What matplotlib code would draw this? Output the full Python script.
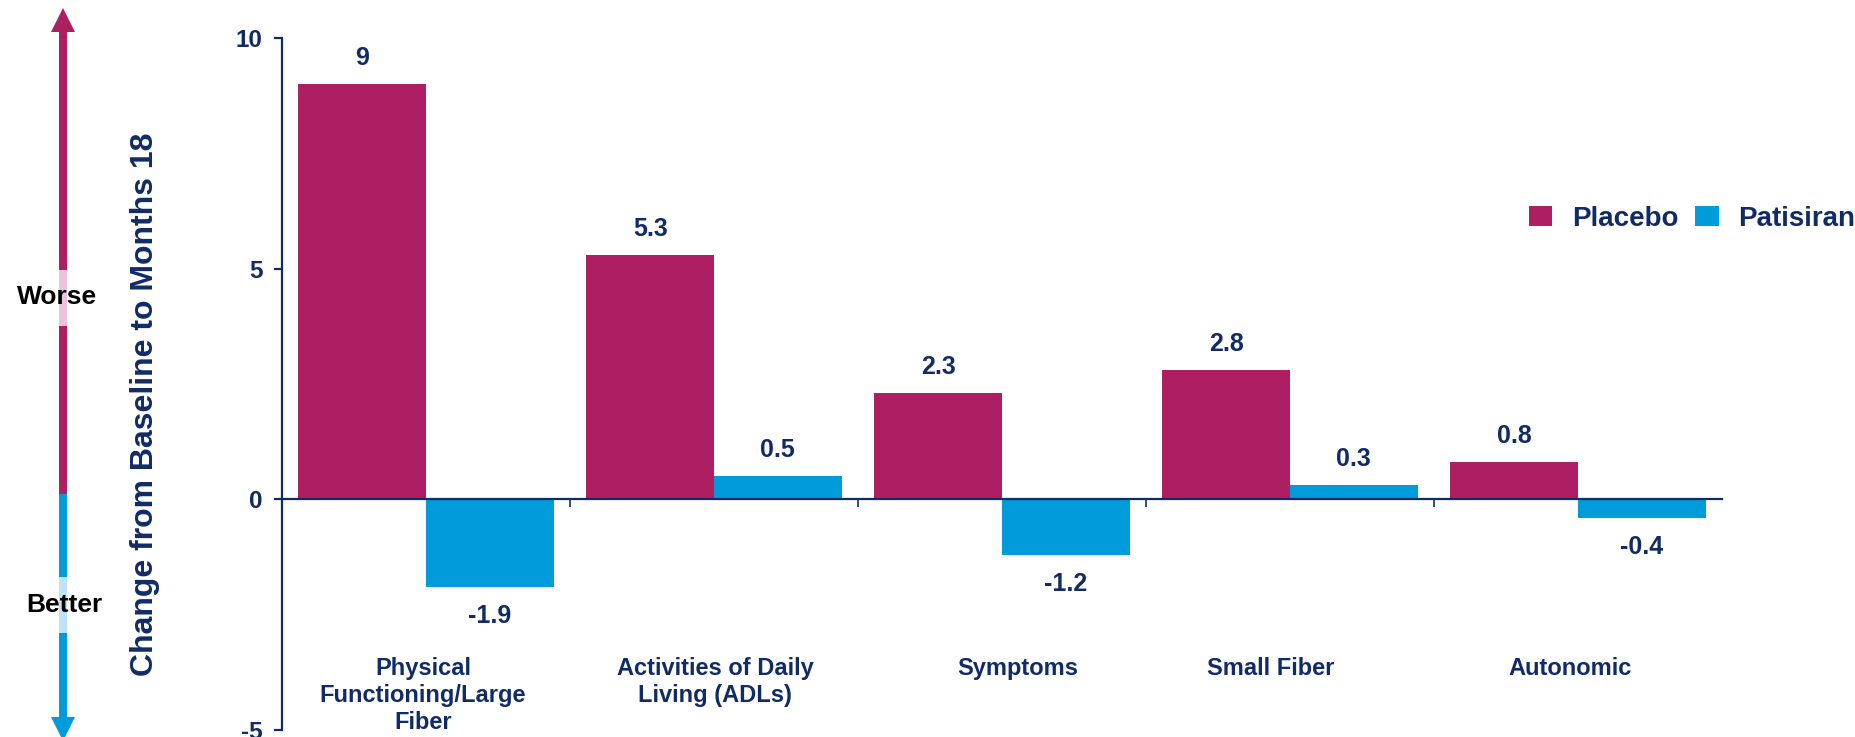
import matplotlib
matplotlib.use("Agg")
import matplotlib.pyplot as plt
from matplotlib.patches import Rectangle, Polygon
import numpy as np

plt.rcParams["font.family"] = ["Liberation Sans", "DejaVu Sans"]
plt.rcParams["font.weight"] = "bold"
plt.rcParams["axes.unicode_minus"] = False

# data
categories = ["Physical\nFunctioning/Large\nFiber", "Activities of Daily\nLiving (ADLs)",
              "Symptoms", "Small Fiber", "Autonomic"]
placebo = [9, 5.3, 2.3, 2.8, 0.8]
patisiran = [-1.9, 0.5, -1.2, 0.3, -0.4]
series_names = ["Placebo", "Patisiran"]
y_ticks = [-5, 0, 5, 10]

# styling
navy = "#112B66"
magenta = "#AE1F62"
blue = "#009BDB"
W, H = 1856, 737
DPI = 100
px = 72 / DPI  # pixels -> points

fig = plt.figure(figsize=(W / DPI, H / DPI), dpi=DPI)

# main axes, placed in pixels
ax_left, ax_right, ax_top, ax_bottom = 282, 1722, 38, 730
ax = fig.add_axes([ax_left / W, 1 - ax_bottom / H, (ax_right - ax_left) / W, (ax_bottom - ax_top) / H])

x = np.arange(len(categories))
bw = 0.443
b1 = ax.bar(x - bw / 2, placebo, bw, color=magenta, label=series_names[0])
b2 = ax.bar(x + bw / 2, patisiran, bw, color=blue, label=series_names[1])

ax.set_xlim(-0.5, len(categories) - 0.5)
ax.set_ylim(-5, 10)
ax.set_yticks(y_ticks)

for s in ["top", "right"]:
    ax.spines[s].set_visible(False)
ax.spines["bottom"].set_position(("data", 0))
for s in ["left", "bottom"]:
    ax.spines[s].set_color(navy)
    ax.spines[s].set_linewidth(1.6)

ax.tick_params(axis="y", direction="out", length=6, width=1.6, color=navy,
               labelcolor=navy, labelsize=17.5, pad=8)
ax.set_xticks([])
ax.set_xticks(x[:-1] + 0.5, minor=True)
ax.tick_params(axis="x", which="minor", direction="out", length=6, width=1.2, color=navy)

# category labels below the zero line
label_nudge = [-3, 1, 16, -19, -8]
for xi, name, dx in zip(x, categories, label_nudge):
    ax.annotate(name, (xi, 0), xytext=(dx * px, -158 * px), textcoords="offset points",
                ha="center", va="top", fontsize=17, color=navy, fontweight="bold",
                linespacing=1.2)

# value labels
for bars, vals in zip([b1, b2], [placebo, patisiran]):
    for bar, v in zip(bars, vals):
        cx = bar.get_x() + bar.get_width() / 2
        off = 26 if v >= 0 else -29
        ax.annotate(f"{v:g}", (cx, v), xytext=(0, off * px), textcoords="offset points",
                    ha="center", va="center", fontsize=18, color=navy, fontweight="bold")

leg = fig.legend(loc="center left", bbox_to_anchor=(1529 / W, 1 - 219 / H), ncol=2,
                 frameon=False, fontsize=20, handlelength=0.83, handleheight=0.72,
                 handletextpad=0.72, columnspacing=0.61, borderpad=0, borderaxespad=0)
for t in leg.get_texts():
    t.set_color(navy)
    t.set_fontweight("bold")

fig.text(145 / W, 1 - 404 / H, "Change from Baseline to Months 18", rotation=90,
         ha="center", va="center", fontsize=23, color=navy, fontweight="bold")

# worse / better arrow on the left
ov = fig.add_axes([0, 0, 1, 1], zorder=-1)
ov.set_xlim(0, W)
ov.set_ylim(H, 0)
ov.axis("off")
cx, sw, hw = 63, 8, 24
ov.add_patch(Rectangle((cx - sw / 2, 32), sw, 494 - 32, color=magenta, lw=0))
ov.add_patch(Rectangle((cx - sw / 2, 494), sw, 717 - 494, color=blue, lw=0))
ov.add_patch(Polygon([(cx - hw / 2, 32), (cx + hw / 2, 32), (cx, 8)], color=magenta, lw=0))
ov.add_patch(Polygon([(cx - hw / 2, 717), (cx + hw / 2, 717), (cx, 741)], color=blue, lw=0))
ov.add_patch(Rectangle((cx - sw / 2, 270), sw, 56, color="#EAC4D8", lw=0))
ov.add_patch(Rectangle((cx - sw / 2, 577), sw, 56, color="#BEE3F5", lw=0))
ov.text(57.5, 297, "Worse", ha="center", va="center", fontsize=19, color="black", fontweight="bold")
ov.text(64.5, 605, "Better", ha="center", va="center", fontsize=19, color="black", fontweight="bold")

fig.savefig("out.png", dpi=DPI)
